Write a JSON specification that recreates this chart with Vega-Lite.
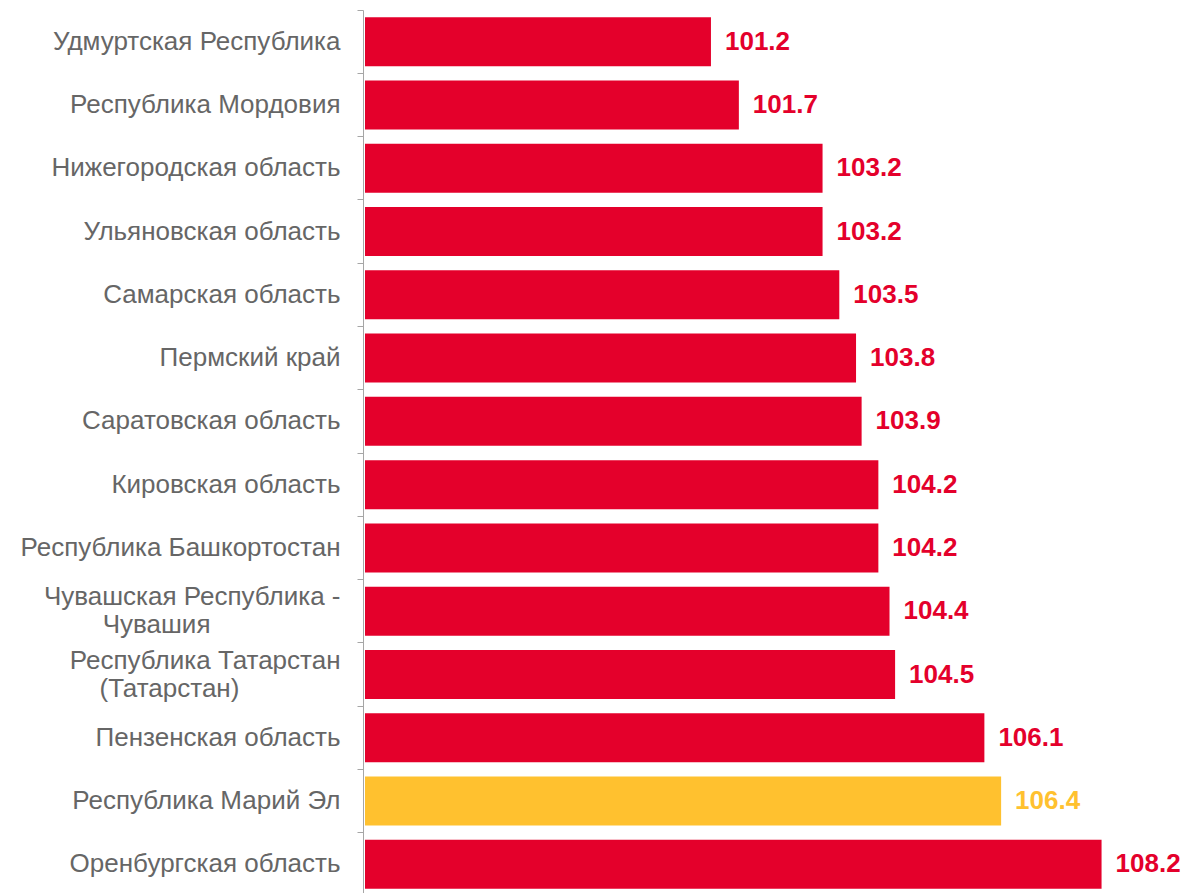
{
  "$schema": "https://vega.github.io/schema/vega-lite/v6.json",
  "width": 837,
  "height": 886,
  "autosize": {"type": "none"},
  "padding": {"left": 365, "top": 10, "right": 0, "bottom": 0},
  "background": "white",
  "config": {"view": {"stroke": null}, "font": "Liberation Sans"},
  "data": {
    "values": [
      {"region": "Удмуртская Республика", "value": 101.2, "group": "other"},
      {"region": "Республика Мордовия", "value": 101.7, "group": "other"},
      {"region": "Нижегородская область", "value": 103.2, "group": "other"},
      {"region": "Ульяновская область", "value": 103.2, "group": "other"},
      {"region": "Самарская область", "value": 103.5, "group": "other"},
      {"region": "Пермский край", "value": 103.8, "group": "other"},
      {"region": "Саратовская область", "value": 103.9, "group": "other"},
      {"region": "Кировская область", "value": 104.2, "group": "other"},
      {"region": "Республика Башкортостан", "value": 104.2, "group": "other"},
      {"region": "Чувашская Республика - Чувашия", "value": 104.4, "group": "other"},
      {"region": "Республика Татарстан (Татарстан)", "value": 104.5, "group": "other"},
      {"region": "Пензенская область", "value": 106.1, "group": "other"},
      {"region": "Республика Марий Эл", "value": 106.4, "group": "highlight"},
      {"region": "Оренбургская область", "value": 108.2, "group": "other"}
    ]
  },
  "encoding": {
    "y": {
      "field": "region",
      "type": "nominal",
      "sort": null,
      "scale": {"paddingInner": 0, "paddingOuter": 0},
      "axis": {
        "title": null,
        "bandPosition": 0,
        "offset": 2,
        "domainColor": "#A6A6A6",
        "tickColor": "#A6A6A6",
        "tickSize": 6,
        "labelFontSize": 26,
        "labelColor": "#666666",
        "labelPadding": 17,
        "labelLineHeight": 28,
        "labelLimit": 400,
        "labelFont": "Liberation Sans",
        "labelOffset": {"condition": {"test": "indexof(datum.value, '(') >= 0 || indexof(datum.value, ' - ') >= 0", "value": -14}, "value": 0},
        "labelExpr": "datum.value == 'Чувашская Республика - Чувашия' ? ['Чувашская Республика -', 'Чувашия\u00a0\u00a0\u00a0\u00a0\u00a0\u00a0\u00a0\u00a0\u00a0\u00a0\u00a0\u00a0\u00a0\u00a0\u00a0\u00a0\u00a0\u00a0\u2060'] : datum.value == 'Республика Татарстан (Татарстан)' ? ['Республика Татарстан', '(Татарстан)\u00a0\u00a0\u00a0\u00a0\u00a0\u00a0\u00a0\u00a0\u00a0\u00a0\u00a0\u00a0\u00a0\u00a0\u2060'] : datum.value"
      }
    },
    "x": {
      "field": "value",
      "type": "quantitative",
      "scale": {"domain": [95, 110], "zero": false, "nice": false},
      "axis": null
    },
    "color": {
      "field": "group",
      "type": "nominal",
      "scale": {"domain": ["other", "highlight"], "range": ["#E4002B", "#FFC12F"]},
      "legend": null
    }
  },
  "layer": [
    {"mark": {"type": "bar", "height": {"band": 0.774}}, "encoding": {"x2": {"datum": 95}}},
    {
      "mark": {"type": "text", "align": "left", "baseline": "middle", "dx": 14, "fontSize": 26, "fontWeight": "bold", "font": "Liberation Sans"},
      "encoding": {"text": {"field": "value", "type": "quantitative", "format": ".1f"}}
    }
  ]
}
